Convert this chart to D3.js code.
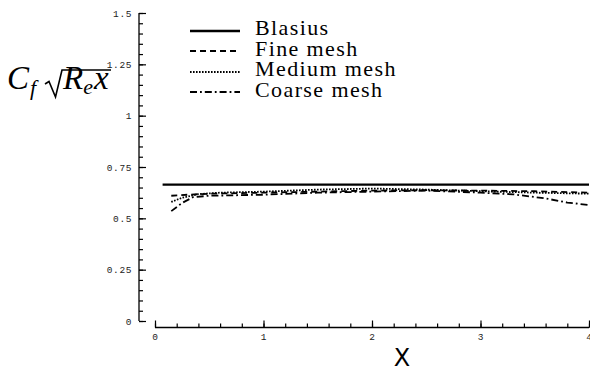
<!DOCTYPE html>
<html><head><meta charset="utf-8">
<script src="https://cdn.jsdelivr.net/npm/d3@7"></script>
<style>body{margin:0;background:#fff}svg{display:block}</style>
</head><body>
<svg id="c" width="590" height="373"></svg>
<script>
const xTicks = [0, 1, 2, 3, 4];
const xTickLabels = ["0", "1", "2", "3", "4"];
const yTicks = [0, 0.25, 0.5, 0.75, 1, 1.25, 1.5];
const yTickLabels = ["0", "0.25", "0.5", "0.75", "1", "1.25", "1.5"];
const seriesNames = ["Blasius", "Fine mesh", "Medium mesh", "Coarse mesh"];
const blasiusX = [0.07, 4];
const blasiusY = [0.664, 0.664];
const fineX = [0.15, 0.3, 0.5, 0.8, 1.0, 1.5, 2.0, 2.5, 3.0, 3.5, 4.0];
const fineY = [0.61, 0.615, 0.62, 0.623, 0.625, 0.63, 0.635, 0.637, 0.635, 0.632, 0.625];
const mediumX = [0.15, 0.25, 0.4, 0.6, 1.0, 1.5, 2.0, 2.5, 3.0, 3.5, 4.0];
const mediumY = [0.58, 0.60, 0.618, 0.625, 0.63, 0.64, 0.645, 0.64, 0.632, 0.625, 0.62];
const coarseX = [0.15, 0.25, 0.35, 0.5, 1.0, 1.5, 2.0, 2.5, 3.0, 3.3, 3.6, 3.8, 4.0];
const coarseY = [0.535, 0.575, 0.603, 0.61, 0.615, 0.625, 0.63, 0.635, 0.625, 0.617, 0.597, 0.577, 0.565];

const svg = d3.select("#c");
const x = d3.scaleLinear().domain([0, 4]).range([155, 589]);
const y = d3.scaleLinear().domain([0, 1.5]).range([321, 13]);
const tickFont = "'Liberation Mono', 'DejaVu Sans Mono', monospace";

// Y axis
svg.append("g").attr("class", "ax").attr("transform", "translate(139,0)")
  .call(d3.axisLeft(y).tickValues(yTicks).tickSize(-7).tickPadding(7)
    .tickFormat((d, i) => yTickLabels[i]));
svg.append("g").attr("class", "ax").attr("transform", "translate(139,0)")
  .call(d3.axisLeft(y).tickValues(d3.range(0, 1.5001, 0.05)).tickSize(-4).tickFormat(""));
// X axis
svg.append("g").attr("class", "ax").attr("transform", "translate(0,327.5)")
  .call(d3.axisBottom(x).tickValues(xTicks).tickSize(-7).tickPadding(6)
    .tickFormat((d, i) => xTickLabels[i]));
svg.append("g").attr("class", "ax").attr("transform", "translate(0,327.5)")
  .call(d3.axisBottom(x).tickValues(d3.range(0, 4.0001, 0.2)).tickSize(-4).tickFormat(""));

svg.selectAll(".domain").remove();
svg.selectAll(".tick line").attr("stroke", "#000").attr("stroke-width", 1.2);
svg.selectAll(".tick text").attr("font-family", tickFont).attr("font-size", 9.5)
  .attr("fill", "#222").attr("letter-spacing", 0.6);
svg.append("line").attr("x1", 139).attr("x2", 139).attr("y1", y(1.5)).attr("y2", y(0)).attr("stroke", "#000").attr("stroke-width", 1.3);
svg.append("line").attr("x1", x(0)).attr("x2", x(4)).attr("y1", 327.5).attr("y2", 327.5).attr("stroke", "#000").attr("stroke-width", 1.3);

// lines
const line = d3.line().x(d => x(d[0])).y(d => y(d[1]));
const styles = [
  { xs: blasiusX, ys: blasiusY, dash: null, w: 2.4 },
  { xs: fineX, ys: fineY, dash: "6,4", w: 1.8 },
  { xs: mediumX, ys: mediumY, dash: "1.6,1.4", w: 1.8 },
  { xs: coarseX, ys: coarseY, dash: "7,3,1.8,3", w: 1.8 }
];
styles.forEach(s => {
  svg.append("path").datum(s.xs.map((v, i) => [v, s.ys[i]]))
    .attr("d", line).attr("fill", "none").attr("stroke", "#000")
    .attr("stroke-width", s.w).attr("stroke-dasharray", s.dash);
});

// legend
const legRows = [31, 51, 72, 92];
const legText = [35, 55.5, 76, 96.5];
seriesNames.forEach((n, i) => {
  svg.append("line").attr("x1", 190).attr("x2", 240).attr("y1", legRows[i]).attr("y2", legRows[i])
    .attr("stroke", "#000").attr("stroke-width", styles[i].w).attr("stroke-dasharray", styles[i].dash);
  svg.append("text").attr("x", 255).attr("y", legText[i]).text(n)
    .attr("font-family", "'Liberation Serif', serif").attr("font-size", 22)
    .attr("letter-spacing", 1.4).attr("fill", "#000");
});

// y label
const serif = "'Liberation Serif', serif";
const lab = svg.append("text").attr("font-family", serif).attr("fill", "#000").attr("font-style", "italic");
lab.append("tspan").attr("x", 7).attr("y", 89).attr("font-size", 33).text("C");
lab.append("tspan").attr("font-size", 22).attr("dx", 1).attr("dy", 6).text("f");
svg.append("path").attr("d", "M45,84 L49,81.5 L55.5,97 L62,70 L111,70")
  .attr("fill", "none").attr("stroke", "#000").attr("stroke-width", 1.6).attr("stroke-linejoin", "miter");
const lab2 = svg.append("text").attr("font-family", serif).attr("fill", "#000").attr("font-style", "italic");
lab2.append("tspan").attr("x", 63).attr("y", 89).attr("font-size", 33).text("R");
lab2.append("tspan").attr("font-size", 22).attr("dy", 5).text("e");
lab2.append("tspan").attr("font-size", 33).attr("dy", -5).attr("dx", 1).text("x");

// x label
svg.append("text").attr("x", 402).attr("y", 366).attr("text-anchor", "middle")
  .attr("font-family", "'DejaVu Sans', sans-serif").attr("font-size", 24).text("X");
</script>
</body></html>
